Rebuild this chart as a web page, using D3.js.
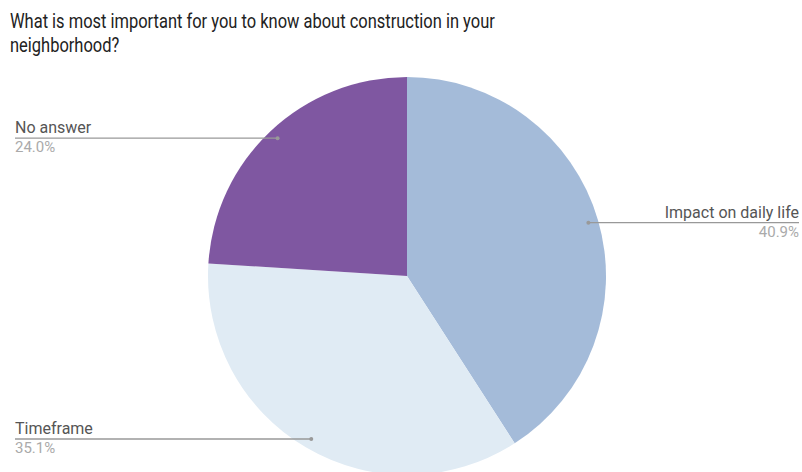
<!DOCTYPE html>
<html>
<head>
<meta charset="utf-8">
<style>
  body { margin: 0; background: #fff; }
  svg { display: block; font-family: Roboto, sans-serif; }
</style>
</head>
<body>
<svg id="pie-chart"></svg>
<script src="https://cdn.jsdelivr.net/npm/d3@7"></script>
<script>

var titleLines = ['What is most important for you to know about construction in your', 'neighborhood?'];
var categories = ['Impact on daily life', 'Timeframe', 'No answer'];
var shares = [40.9, 35.1, 24.0];
var sliceColors = ['#a4bbd9', '#e0ebf4', '#7f57a1'];

var width = 802, height = 472;
var svg = d3.select('#pie-chart')
    .attr('width', width)
    .attr('height', height);

// the title in the source is set in a narrow face, so squeeze it horizontally
var title = svg.append('text')
    .attr('transform', 'translate(10,28) scale(0.785,1)')
    .style('font-size', '21px')
    .style('fill', '#222');
title.selectAll('tspan')
    .data(titleLines)
    .enter().append('tspan')
    .attr('x', 0)
    .attr('dy', function(d, i){ return i == 0 ? 0 : 24; })
    .text(function(d){ return d; });

var cx = 407, cy = 276, radius = 199;

var data = categories.map(function(c, i){ return {name: c, value: shares[i], color: sliceColors[i]}; });

var pie = d3.pie()
    .sort(null)
    .value(function(d){ return d.value; });

var arc = d3.arc()
    .innerRadius(0)
    .outerRadius(radius);

var g = svg.append('g')
    .attr('transform', 'translate(' + cx + ',' + cy + ')');

var arcs = pie(data);

g.selectAll('.slice')
    .data(arcs)
    .enter().append('path')
    .attr('class', 'slice')
    .attr('d', arc)
    .style('fill', function(d){ return d.data.color; });

// label anchor sits on the slice's mid angle at 95% of the radius
function anchor(d){
    var a = (d.startAngle + d.endAngle) / 2;
    var r = radius * 0.95;
    return [r * Math.sin(a), -r * Math.cos(a)];
}

var labels = svg.append('g');

arcs.forEach(function(d){
    var p = anchor(d);
    var px = cx + p[0], py = cy + p[1];
    var right = p[0] > 0;
    var x0 = right ? px : 15;
    var x1 = right ? 799 : px;
    var tx = right ? 799 : 15;
    var anchorSide = right ? 'end' : 'start';

    labels.append('line')
        .attr('x1', x0).attr('x2', x1)
        .attr('y1', py).attr('y2', py)
        .style('stroke', '#999')
        .style('stroke-width', 1.3);

    labels.append('circle')
        .attr('cx', px).attr('cy', py)
        .attr('r', 2)
        .style('fill', '#999');

    labels.append('text')
        .attr('x', tx).attr('y', py - 5)
        .attr('text-anchor', anchorSide)
        .style('font-size', '16px')
        .style('fill', '#555')
        .text(d.data.name);

    labels.append('text')
        .attr('x', tx).attr('y', py + 14)
        .attr('text-anchor', anchorSide)
        .style('font-size', '15px')
        .style('fill', '#aaa')
        .text(d.data.value.toFixed(1) + '%');
});

</script>
</body>
</html>
